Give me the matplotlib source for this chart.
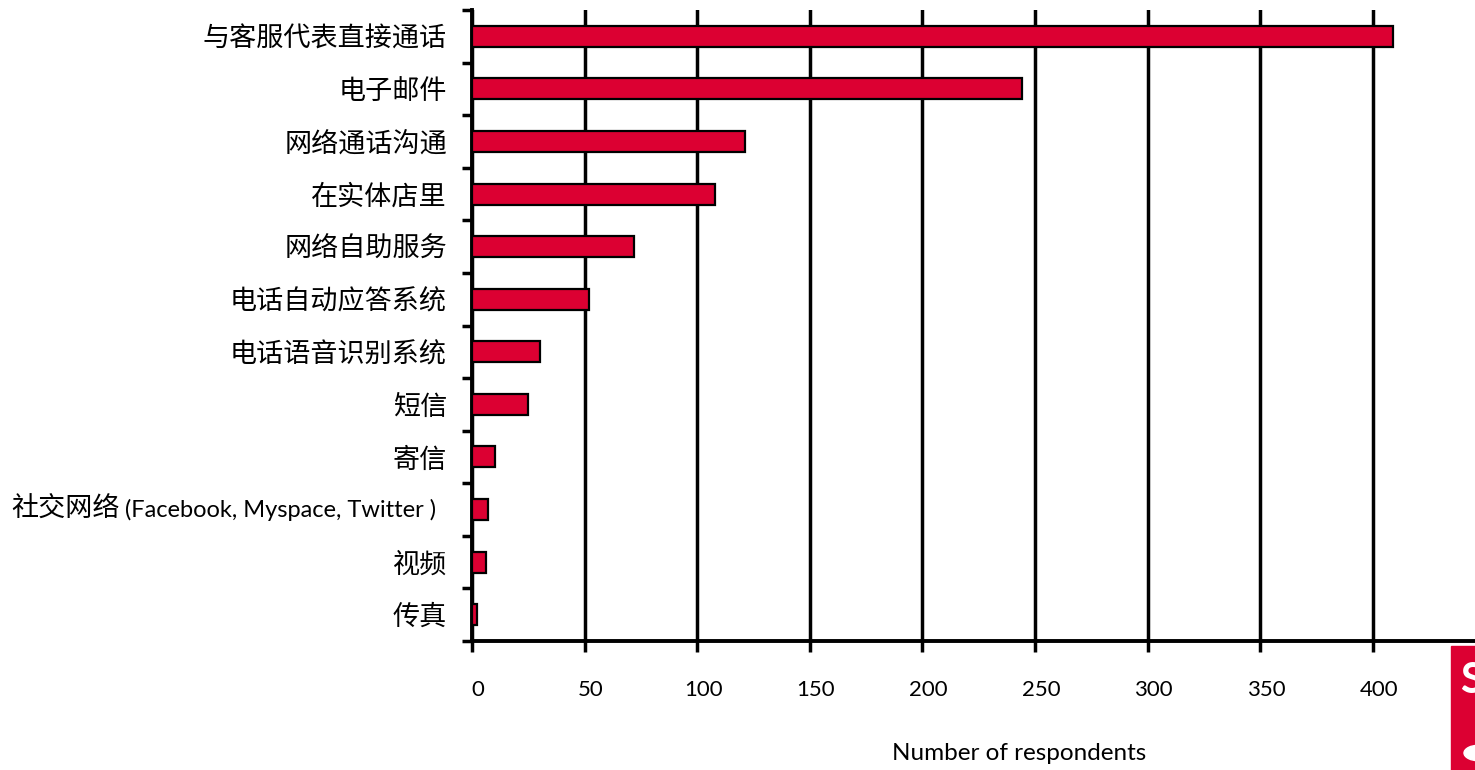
import matplotlib
matplotlib.use("Agg")
import matplotlib.pyplot as plt
import matplotlib.transforms as mtransforms
from matplotlib.patches import Rectangle, Circle
import numpy as np

categories = ["与客服代表直接通话", "电子邮件", "网络通话沟通", "在实体店里", "网络自助服务",
              "电话自动应答系统", "电话语音识别系统", "短信", "寄信",
              "社交网络 (Facebook, Myspace, Twitter )", "视频", "传真"]
values = [409, 244, 121, 108, 72, 52, 30, 25, 10, 7, 6, 2]
xticks = [0, 50, 100, 150, 200, 250, 300, 350, 400]
xlabel = "Number of respondents"

BAR = "#DC0032"
CJK = ["Noto Sans CJK SC", "DejaVu Sans"]
LAT = ["Lato", "DejaVu Sans"]
LABEL_PAD = 18  # points

fig = plt.figure(figsize=(14.75, 7.7), dpi=100)
left = 472 / 1475
right = 1485.6 / 1475
top = 1 - 10 / 770
bottom = 1 - 641 / 770
ax = fig.add_axes([left, bottom, right - left, top - bottom])

n = len(categories)
y = np.arange(n)
ax.barh(y, values, height=0.4, color=BAR, edgecolor="black", linewidth=1.6, zorder=3)
ax.set_ylim(n - 0.5, -0.5)
ax.set_xlim(0, 450)

ax.set_xticks(xticks)
ax.set_xticklabels([str(t) for t in xticks], fontfamily=LAT, fontsize=16)
ax.set_yticks(y)
# mixed label (Chinese + Latin) drawn separately below
shown = [c if "(" not in c else "" for c in categories]
ax.set_yticklabels(shown, fontfamily=CJK, fontsize=19.5)
ax.set_yticks(np.arange(n + 1) - 0.5, minor=True)

ax.tick_params(axis="y", which="major", length=0, pad=LABEL_PAD)
ax.tick_params(axis="y", which="minor", length=7, width=2.5, color="black", direction="out")
ax.tick_params(axis="x", which="major", length=8, width=2.5, color="black", direction="out", pad=20)

ax.xaxis.grid(True, color="black", linewidth=2.5, zorder=1)
ax.axvline(450, color="black", linewidth=2.5, zorder=1)
ax.set_axisbelow(True)
for s in ["top", "right"]:
    ax.spines[s].set_visible(False)
for s in ["left", "bottom"]:
    ax.spines[s].set_linewidth(2.8)
    ax.spines[s].set_color("black")

off = mtransforms.ScaledTranslation(6 / 100, 0, fig.dpi_scale_trans)
for lab in ax.get_xticklabels():
    lab.set_transform(lab.get_transform() + off)

# mixed-script label
for i, c in enumerate(categories):
    if "(" in c:
        cn, lat = c.split(" ", 1)
        trans = ax.get_yaxis_transform() + mtransforms.ScaledTranslation(-(LABEL_PAD + 8) / 72, 0, fig.dpi_scale_trans)
        t_lat = ax.text(0, i, lat, transform=trans, ha="right", va="center",
                        fontfamily=LAT, fontsize=17)
        fig.canvas.draw()
        bb = t_lat.get_window_extent(renderer=fig.canvas.get_renderer())
        width_in = (bb.width + 5) / fig.dpi
        trans2 = ax.get_yaxis_transform() + mtransforms.ScaledTranslation(-(LABEL_PAD + 8) / 72 - width_in, 0, fig.dpi_scale_trans)
        ax.text(0, i, cn, transform=trans2, ha="right", va="center",
                fontfamily=CJK, fontsize=19.5)

fig.text(1019 / 1475, 1 - 754 / 770, xlabel, ha="center", va="center",
         fontfamily=LAT, fontsize=17.5, color="black")

# cropped logo at bottom right
fig.patches.append(Rectangle((1451 / 1475, 0), 30 / 1475, (770 - 646) / 770,
                             transform=fig.transFigure, color=BAR, zorder=5))
fig.text(1460 / 1475, 1 - 681 / 770, "S", ha="left", va="center", color="white",
         fontfamily=LAT, fontsize=30, fontweight="bold", zorder=6)
fig.patches.append(Circle((1479 / 1475, 1 - 753 / 770), 15 / 1475,
                          transform=fig.transFigure, color="white", zorder=6))

fig.savefig("out.png", dpi=100)
